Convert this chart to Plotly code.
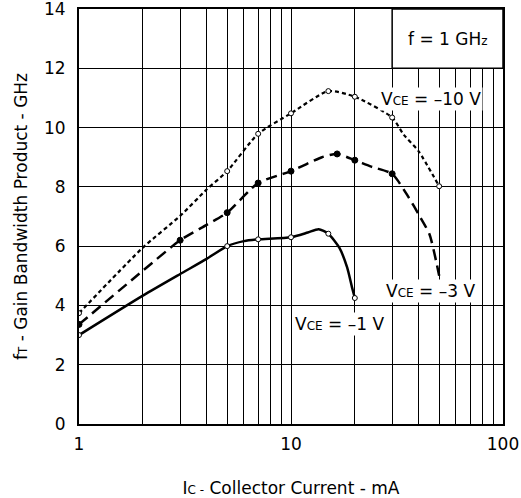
import math
import plotly.graph_objects as go

# Courbes fT = f(Ic) pour trois VCE
ic_10v = [1, 2, 3, 4, 5, 7, 10, 15, 20, 30, 34, 40, 50]
ft_10v = [3.74, 5.95, 7.02, 7.91, 8.53, 9.79, 10.48, 11.23, 11.04, 10.34, 9.76, 9.2, 8.02]
ic_10v_pts = [1, 5, 7, 10, 15, 20, 30, 50]
ft_10v_pts = [3.74, 8.53, 9.79, 10.48, 11.23, 11.04, 10.34, 8.02]

ic_3v = [1, 2, 3, 4, 5, 7, 10, 14, 16.5, 20, 23.7, 30, 36, 40, 45, 50]
ft_3v = [3.36, 5.17, 6.2, 6.72, 7.13, 8.13, 8.53, 9.0, 9.11, 8.9, 8.69, 8.44, 7.63, 7.07, 6.4, 5.0]
ic_3v_pts = [1, 3, 5, 7, 10, 16.5, 20, 30]
ft_3v_pts = [3.36, 6.2, 7.13, 8.13, 8.53, 9.11, 8.9, 8.44]

ic_1v = [1, 2, 3, 4, 5, 6, 7, 10, 12, 13.5, 15, 16.9, 18.4, 19.4, 20]
ft_1v = [3.0, 4.33, 5.06, 5.57, 6.0, 6.17, 6.23, 6.3, 6.46, 6.57, 6.42, 5.95, 5.28, 4.61, 4.25]
ic_1v_pts = [1, 5, 7, 10, 15, 20]
ft_1v_pts = [3.0, 6.0, 6.23, 6.3, 6.42, 4.25]

x_ticks = [1, 2, 3, 4, 5, 6, 7, 8, 9, 10, 20, 30, 40, 50, 60, 70, 80, 90, 100]
x_labels = ["1", "", "", "", "", "", "", "", "", "10", "", "", "", "", "", "", "", "", "100"]

FONT = "DejaVu Sans, Verdana, sans-serif"

fig = go.Figure()

# lignes
fig.add_trace(go.Scatter(x=ic_10v, y=ft_10v, mode="lines", line=dict(color="black", width=2.2, dash="4px,3px", shape="spline", smoothing=0.6)))
fig.add_trace(go.Scatter(x=ic_3v, y=ft_3v, mode="lines", line=dict(color="black", width=2.5, dash="11px,6px", shape="spline", smoothing=0.6)))
fig.add_trace(go.Scatter(x=ic_1v, y=ft_1v, mode="lines", line=dict(color="black", width=2.5, shape="spline", smoothing=0.6)))

# points de mesure
fig.add_trace(go.Scatter(x=ic_10v_pts, y=ft_10v_pts, mode="markers",
                         marker=dict(size=5, color="white", line=dict(color="black", width=1))))
fig.add_trace(go.Scatter(x=ic_3v_pts, y=ft_3v_pts, mode="markers",
                         marker=dict(size=6, color="black", line=dict(color="black", width=1))))
fig.add_trace(go.Scatter(x=ic_1v_pts, y=ft_1v_pts, mode="markers",
                         marker=dict(size=5, color="white", line=dict(color="black", width=1))))

# cadre "f = 1 GHz"
fig.add_shape(type="rect", x0=30, x1=100, y0=12, y1=14, xref="x", yref="y",
              fillcolor="white", line=dict(color="black", width=1.5), layer="above")

small = "<span style='font-size:12px'>{}</span>"
# annotations : x en log10 sur un axe log
fig.add_annotation(x=math.log10(55), y=13, xref="x", yref="y", showarrow=False,
                   text="f = 1 GH" + small.format("z"), font=dict(size=17, color="black", family=FONT))
fig.add_annotation(x=math.log10(45.7), y=10.98, xref="x", yref="y", showarrow=False, bgcolor="white",
                   text="V" + small.format("CE") + " = –10 V", font=dict(size=17, color="black", family=FONT))
fig.add_annotation(x=math.log10(45.7), y=4.5, xref="x", yref="y", showarrow=False, bgcolor="white",
                   text="V" + small.format("CE") + " = –3 V", font=dict(size=17, color="black", family=FONT))
fig.add_annotation(x=math.log10(17.0), y=3.38, xref="x", yref="y", showarrow=False, bgcolor="white",
                   text="V" + small.format("CE") + " = –1 V", font=dict(size=17, color="black", family=FONT))

fig.update_xaxes(type="log", range=[0, 2], tickvals=x_ticks, ticktext=x_labels,
                 showgrid=True, gridcolor="black", gridwidth=1,
                 showline=True, mirror=True, linecolor="black", linewidth=2,
                 ticks="", ticklabelstandoff=4, ticklabeloverflow="allow", zeroline=False,
                 tickfont=dict(size=17, color="black", family=FONT),
                 title=dict(text="I" + "<span style='font-size:12px'>C -</span> Collector Current - mA",
                            font=dict(size=17, color="black", family=FONT), standoff=29))
fig.update_yaxes(range=[0, 14], dtick=2,
                 showgrid=True, gridcolor="black", gridwidth=1,
                 showline=True, mirror=True, linecolor="black", linewidth=2,
                 ticks="", ticklabelstandoff=8, ticklabeloverflow="allow", zeroline=False,
                 tickfont=dict(size=17, color="black", family=FONT),
                 title=dict(text="f" + "<span style='font-size:12px'>T</span> - Gain Bandwidth Product - GHz",
                            font=dict(size=17, color="black", family=FONT), standoff=12))

fig.update_layout(width=521, height=498, showlegend=False,
                  margin=dict(l=79, r=18, t=9, b=74, autoexpand=False),
                  paper_bgcolor="white", plot_bgcolor="white")

# marge par défaut du <body> retirée pour que la figure commence en (0, 0)
fig.write_html("out.html", config={"displayModeBar": False},
               post_script="document.body.style.margin='0';")
